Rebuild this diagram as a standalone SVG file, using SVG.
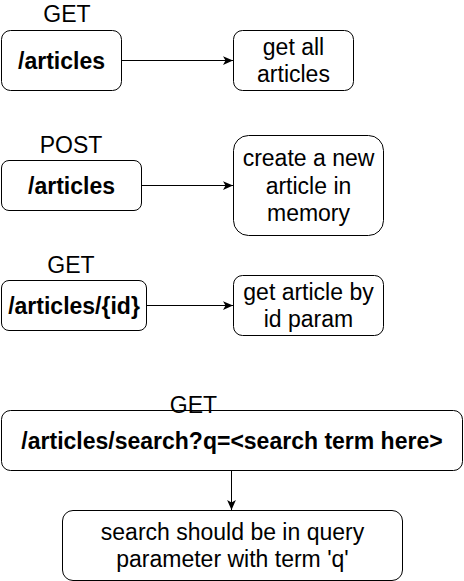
<svg xmlns="http://www.w3.org/2000/svg" width="464" height="581" viewBox="0 0 464 581">
<style>
.box{fill:#fff;stroke:#000;stroke-width:1}
text{font-family:"Liberation Sans",Arial,sans-serif;font-size:23px;fill:#000;text-anchor:middle}
.b{font-weight:bold}
.edge{stroke:#000;stroke-width:1;fill:none;marker-end:url(#arr)}
</style>
<defs>
<marker id="arr" markerUnits="userSpaceOnUse" markerWidth="10" markerHeight="10" viewBox="0 0 8 7" refX="8" refY="3.5" orient="auto">
<path d="M0,0 L8,3.5 L0,7 L2,3.5 z" fill="#000"/>
</marker>
</defs>
<rect width="464" height="581" fill="#fff"/>
<g id="connectors">
<line class="edge" x1="121.5" y1="60.5" x2="233" y2="60.5"/>
<line class="edge" x1="141.5" y1="185.5" x2="233" y2="185.5"/>
<line class="edge" x1="146.5" y1="305.5" x2="233" y2="305.5"/>
<line class="edge" x1="231.5" y1="470.5" x2="231.5" y2="510"/>
</g>
<g id="lbl-get1"><text x="67" y="22">GET</text></g>
<g id="n-articles-get">
<rect class="box" x="1.5" y="30.5" width="120" height="60" rx="9"/>
<text class="b" x="61.5" y="68.5">/articles</text>
</g>
<g id="n-get-all">
<rect class="box" x="233.5" y="30.5" width="120" height="60" rx="9"/>
<text x="293.5" y="54.7">get all</text>
<text x="293.5" y="82.3">articles</text>
</g>
<g id="lbl-post"><text x="71" y="153">POST</text></g>
<g id="n-articles-post">
<rect class="box" x="1.5" y="160.5" width="140" height="50" rx="7.5"/>
<text class="b" x="71.5" y="193.5">/articles</text>
</g>
<g id="n-create">
<rect class="box" x="233.5" y="135.5" width="150" height="100" rx="15"/>
<text x="308.5" y="165.9">create a new</text>
<text x="308.5" y="193.5">article in</text>
<text x="308.5" y="221.1">memory</text>
</g>
<g id="lbl-get3"><text x="71" y="273">GET</text></g>
<g id="n-articles-id">
<rect class="box" x="1.5" y="280.5" width="145" height="50" rx="7.5"/>
<text class="b" x="74" y="313.5">/articles/{id}</text>
</g>
<g id="n-get-by-id">
<rect class="box" x="233.5" y="275.5" width="150" height="60" rx="9"/>
<text x="308.5" y="299.7">get article by</text>
<text x="308.5" y="327.3">id param</text>
</g>
<g id="n-search">
<rect class="box" x="1.5" y="410.5" width="461" height="60" rx="9"/>
<text class="b" x="232" y="448.5">/articles/search?q=&lt;search term here&gt;</text>
</g>
<g id="lbl-get4"><text x="193.5" y="413">GET</text></g>
<g id="n-search-desc">
<rect class="box" x="62.5" y="510.5" width="340" height="70" rx="10.5"/>
<text x="232.5" y="539.7">search should be in query</text>
<text x="232.5" y="567.3">parameter with term 'q'</text>
</g>
</svg>
